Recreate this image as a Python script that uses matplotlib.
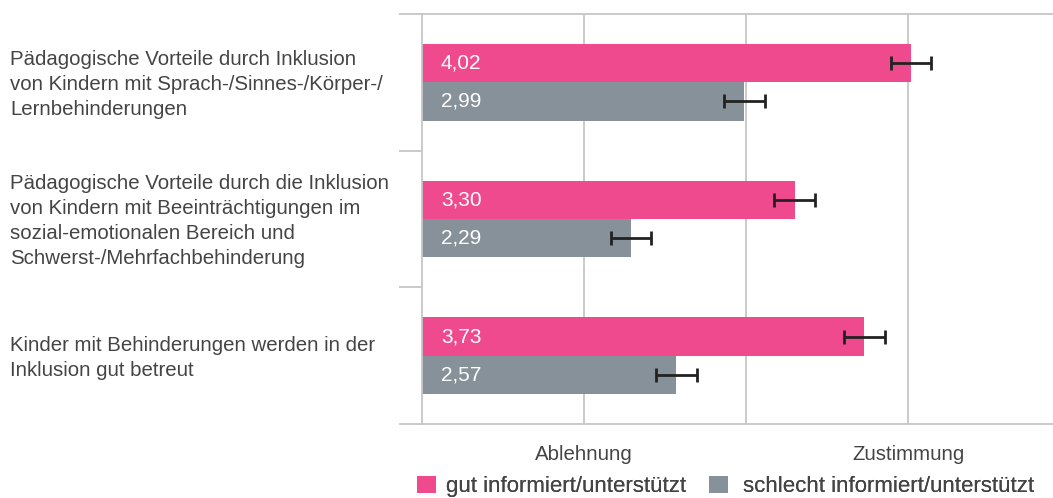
import matplotlib
matplotlib.use("Agg")
import matplotlib.pyplot as plt
from matplotlib.patches import Patch
import numpy as np

plt.rcParams['font.family'] = ['Liberation Sans', 'DejaVu Sans']

# data
categories = [
    "Pädagogische Vorteile durch Inklusion\nvon Kindern mit Sprach-/Sinnes-/Körper-/\nLernbehinderungen",
    "Pädagogische Vorteile durch die Inklusion\nvon Kindern mit Beeinträchtigungen im\nsozial-emotionalen Bereich und\nSchwerst-/Mehrfachbehinderung",
    "Kinder mit Behinderungen werden in der\nInklusion gut betreut",
]
gut = [4.02, 3.30, 3.73]
schlecht = [2.99, 2.29, 2.57]
gut_err = [0.125, 0.125, 0.125]
schlecht_err = [0.125, 0.125, 0.125]
series_names = ["gut informiert/unterstützt", "schlecht informiert/unterstützt"]
xtick_pos = [2, 4]
xtick_labels = ["Ablehnung", "Zustimmung"]

pink = "#ef4a8d"
grey = "#869199"
line_col = "#c6c6c6"
txt_col = "#444444"

W, H = 1053, 498
fig = plt.figure(figsize=(W / 100, H / 100), dpi=100)
ax = fig.add_axes([422 / W, 1 - 424 / H, 648 / W, 410 / H])

y = np.arange(len(categories))
bh = 0.28
ax.barh(y - bh / 2, np.array(gut) - 1, left=1, height=bh, color=pink, zorder=2)
ax.barh(y + bh / 2, np.array(schlecht) - 1, left=1, height=bh, color=grey, zorder=2)
ax.errorbar(gut, y - bh / 2, xerr=gut_err, fmt='none', ecolor='#222222',
            elinewidth=2, capsize=5, capthick=2, zorder=3)
ax.errorbar(schlecht, y + bh / 2, xerr=schlecht_err, fmt='none', ecolor='#222222',
            elinewidth=2, capsize=5, capthick=2, zorder=3)

for yy, v in zip(y - bh / 2, gut):
    ax.annotate(f"{v:.2f}".replace(".", ","), (1, yy), xytext=(13.5, 0),
                textcoords='offset points', color='white', fontsize=15,
                va='center', ha='left', zorder=4)
for yy, v in zip(y + bh / 2, schlecht):
    ax.annotate(f"{v:.2f}".replace(".", ","), (1, yy), xytext=(13.5, 0),
                textcoords='offset points', color='white', fontsize=15,
                va='center', ha='left', zorder=4)

ax.set_xlim(1, 5)
ax.set_ylim(len(categories) - 0.5, -0.5)

for gx in [2, 3, 4]:
    ax.axvline(gx, color=line_col, lw=1.3, zorder=1)

ax.spines['right'].set_visible(False)
for s in ['top', 'bottom', 'left']:
    ax.spines[s].set_color(line_col)
    ax.spines[s].set_linewidth(1.3)

ax.set_yticks(np.arange(-0.5, len(categories), 1.0))
ax.set_yticklabels([])
ax.tick_params(axis='y', length=16.5, width=1.3, color=line_col)
ax.set_xticks(xtick_pos)
ax.set_xticklabels(xtick_labels, fontsize=14.7, color=txt_col)
ax.tick_params(axis='x', length=0, pad=15)

for yy, lab in zip(y, categories):
    fig.text(10 / W, ax.transData.transform((1, yy))[1] / H - 0.004, lab,
             fontsize=14.7, color=txt_col, va='center', ha='left', linespacing=1.38)

# one legend per entry so each can sit where it does in the reference
leg_x = [417, 709]
leg_pad = [0.46, 0.68]
for name, col, lx, tp in zip(series_names, [pink, grey], leg_x, leg_pad):
    lg = fig.legend([Patch(facecolor=col)], [name], loc='center left',
                    bbox_to_anchor=(lx / W, 1 - 486.5 / H), frameon=False,
                    fontsize=16, handlelength=0.86, handleheight=0.77,
                    handletextpad=tp, borderpad=0, borderaxespad=0,
                    labelcolor=txt_col)
    fig.add_artist(lg)

fig.savefig("out.png", dpi=100)
